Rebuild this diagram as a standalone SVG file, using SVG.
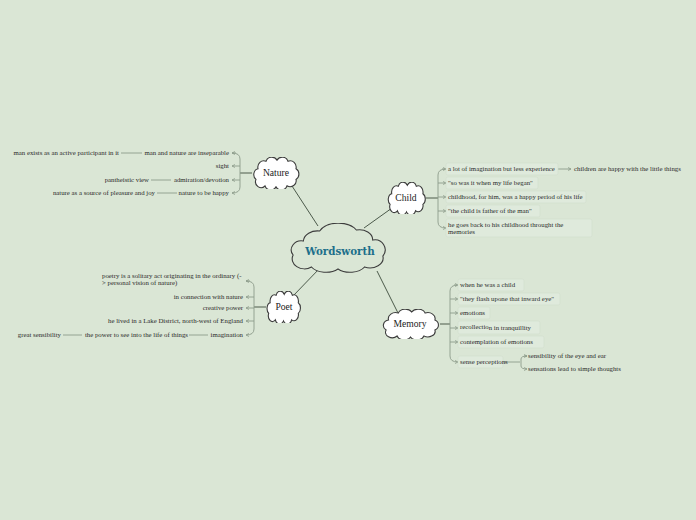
<svg xmlns="http://www.w3.org/2000/svg" width="696" height="520" viewBox="0 0 696 520">
<style>
.t{font-family:"Liberation Serif","DejaVu Serif",serif;font-size:6.8px;fill:#2a2a2a}
.e{text-anchor:end}
.lbl{font-family:"Liberation Serif","DejaVu Serif",serif;font-size:9.6px;fill:#222;text-anchor:middle}
.main{font-family:"DejaVu Serif","Liberation Serif",serif;font-weight:bold;font-size:10.3px;fill:#1d6f8a;text-anchor:middle}
.br{fill:none;stroke:#8d9c8b;stroke-width:0.9}
.ln{fill:none;stroke:#8d9c8b;stroke-width:0.9}
.c{fill:none;stroke:#4c5a4b;stroke-width:1}
.box{fill:#dfeadc;stroke:#d2dfcf;stroke-width:0.6}
.cl{stroke:#3c3c3c;stroke-width:1.1;vector-effect:non-scaling-stroke}
</style>
<defs>
<marker id="ar" markerWidth="5" markerHeight="5" refX="4" refY="2.5" orient="auto" markerUnits="userSpaceOnUse">
<path d="M1,1 L4,2.5 L1,4" fill="none" stroke="#8d9c8b" stroke-width="0.8"/>
</marker>
<symbol id="cloud" viewBox="0 0 100 60" preserveAspectRatio="none">
<path class="cl" d="M14,22 A12,12 0 0 1 30,8 A12,11 0 0 1 52,6 A12,11 0 0 1 74,8 A12,12 0 0 1 90,22 A10,11 0 0 1 90,42 A12,11 0 0 1 72,54 A12,11 0 0 1 50,56 A12,11 0 0 1 28,54 A11,11 0 0 1 10,42 A10,11 0 0 1 14,22 Z"/>
</symbol>
<symbol id="bigcloud" viewBox="0 0 100 50" preserveAspectRatio="none">
<path class="cl" d="M16,18 A14,11 0 0 1 32,8 A20,13 0 0 1 68,7 A13,10 0 0 1 84,17 A10,10 0 0 1 94,33 A13,10 0 0 1 76,44 A16,10 0 0 1 50,46 A16,10 0 0 1 24,44 A12,10 0 0 1 6,32 A10,9 0 0 1 16,18 Z"/>
</symbol>
</defs>
<rect width="696" height="520" fill="#dae6d5"/>

<g id="connectors">
<path class="c" d="M318,226 L292,186"/>
<path class="c" d="M364,228 L392,208"/>
<path class="c" d="M320,268 L293,296"/>
<path class="c" d="M377,271 L398,313"/>
<!-- Nature bracket -->
<path class="c" d="M252,173 L240,173"/>
<path class="br" d="M232,153 Q240,153 240,159 L240,187 Q240,193 232,193" marker-end="url(#ar)"/>
<path class="br" d="M236,153 L232,153" marker-end="url(#ar)"/>
<path class="br" d="M240,166 L232,166" marker-end="url(#ar)"/>
<path class="br" d="M240,180 L232,180" marker-end="url(#ar)"/>
<path class="ln" d="M142,153 L121,153"/>
<path class="ln" d="M171,180 L151,180"/>
<path class="ln" d="M177,193 L157,193"/>
<!-- Poet bracket -->
<path class="c" d="M266,307 L254,307"/>
<path class="br" d="M246,281 Q254,281 254,287 L254,329 Q254,335 246,335" marker-end="url(#ar)"/>
<path class="br" d="M250,281 L246,281" marker-end="url(#ar)"/>
<path class="br" d="M254,297 L246,297" marker-end="url(#ar)"/>
<path class="br" d="M254,308 L246,308" marker-end="url(#ar)"/>
<path class="br" d="M254,321 L246,321" marker-end="url(#ar)"/>
<path class="ln" d="M208,335 L189,335"/>
<path class="ln" d="M82,335 L63,335"/>
<!-- Child bracket -->
<path class="c" d="M426,198 L438,198"/>
<path class="br" d="M446,169 Q438,169 438,175 L438,222 Q438,228 446,228" marker-end="url(#ar)"/>
<path class="br" d="M442,169 L446,169" marker-end="url(#ar)"/>
<path class="br" d="M438,183 L446,183" marker-end="url(#ar)"/>
<path class="br" d="M438,197 L446,197" marker-end="url(#ar)"/>
<path class="br" d="M438,211 L446,211" marker-end="url(#ar)"/>
<path class="ln" d="M558,169 L571,169" marker-end="url(#ar)"/>
<!-- Memory bracket -->
<path class="c" d="M440,324 L450,324"/>
<path class="br" d="M458,285 Q450,285 450,291 L450,356 Q450,362 458,362" marker-end="url(#ar)"/>
<path class="br" d="M454,285 L458,285" marker-end="url(#ar)"/>
<path class="br" d="M450,299 L458,299" marker-end="url(#ar)"/>
<path class="br" d="M450,313 L458,313" marker-end="url(#ar)"/>
<path class="br" d="M450,328 L458,328" marker-end="url(#ar)"/>
<path class="br" d="M450,342 L458,342" marker-end="url(#ar)"/>
<path class="ln" d="M503,362 L520,362"/>
<path class="br" d="M527,356 Q521,356 521,359 L521,366 Q521,369 527,369" marker-end="url(#ar)"/>
<path class="br" d="M524,356 L527,356" marker-end="url(#ar)"/>
</g>

<g id="wordsworth">
<use href="#bigcloud" x="287" y="223" width="102" height="50" fill="#dae6d5"/>
<text class="main" x="340" y="255">Wordsworth</text>
</g>

<g id="nature">
<use href="#cloud" x="251" y="157" width="50" height="32" fill="#ffffff"/>
<text class="lbl" x="276" y="176">Nature</text>
</g>
<g id="nature-items">
<text class="t e" x="229" y="155">man and nature are inseparable</text>
<text class="t e" x="119" y="155">man exists as an active participant in it</text>
<text class="t e" x="229" y="168">sight</text>
<text class="t e" x="229" y="182">admiration/devotion</text>
<text class="t e" x="149" y="182">pantheistic view</text>
<text class="t e" x="229" y="195">nature to be happy</text>
<text class="t e" x="155" y="195">nature as a source of pleasure and joy</text>
</g>

<g id="child">
<use href="#cloud" x="386" y="182" width="41" height="32" fill="#ffffff"/>
<text class="lbl" x="406" y="201">Child</text>
</g>
<g id="child-items">
<rect class="box" x="446" y="163" width="112" height="12" rx="2"/>
<rect class="box" x="446" y="177" width="92" height="12" rx="2"/>
<rect class="box" x="446" y="191" width="140" height="12" rx="2"/>
<rect class="box" x="446" y="205" width="94" height="12" rx="2"/>
<rect class="box" x="446" y="219" width="146" height="18" rx="2"/>
<text class="t" x="448" y="171">a lot of imagination but less experience</text>
<text class="t" x="574" y="171">children are happy with the little things</text>
<text class="t" x="448" y="185">"so was it when my life began"</text>
<text class="t" x="448" y="199">childhood, for him, was a happy period of his life</text>
<text class="t" x="448" y="213">"the child is father of the man"</text>
<text class="t" x="448" y="227">he goes back to his childhood throught the</text>
<text class="t" x="448" y="234">memories</text>
</g>

<g id="poet">
<use href="#cloud" x="265" y="291" width="37" height="32" fill="#ffffff"/>
<text class="lbl" x="284" y="310">Poet</text>
</g>
<g id="poet-items">
<text class="t" x="102" y="278">poetry is a solitary act originating in the ordinary (-</text>
<text class="t" x="102" y="284.5">&gt; personal vision of nature)</text>
<text class="t e" x="243" y="299">in connection with  nature</text>
<text class="t e" x="243" y="310">creative power</text>
<text class="t e" x="243" y="323">he lived in a Lake District, north-west of England</text>
<text class="t e" x="243" y="337">imagination</text>
<text class="t e" x="188" y="337">the power to see into the life of things</text>
<text class="t e" x="61" y="337">great sensibility</text>
</g>

<g id="memory">
<use href="#cloud" x="380" y="309" width="61" height="30" fill="#ffffff"/>
<text class="lbl" x="410" y="327">Memory</text>
</g>
<g id="memory-items">
<rect class="box" x="458" y="279" width="66" height="12" rx="2"/>
<rect class="box" x="458" y="293" width="102" height="12" rx="2"/>
<rect class="box" x="458" y="307" width="32" height="12" rx="2"/>
<rect class="box" x="458" y="321" width="82" height="13" rx="2"/>
<rect class="box" x="458" y="336" width="86" height="12" rx="2"/>
<rect class="box" x="458" y="356" width="45" height="12" rx="2"/>
<text class="t" x="460" y="287">when he was a child</text>
<text class="t" x="460" y="301">"they flash upone that inward eye"</text>
<text class="t" x="460" y="315">emotions</text>
<text class="t" x="460" y="329">recollectio<tspan dy="1.2">n in tranquillity</tspan></text>
<text class="t" x="460" y="344">contemplation of emotions</text>
<text class="t" x="460" y="364">sense perceptions</text>
<text class="t" x="528" y="358">sensibility of the eye and ear</text>
<text class="t" x="528" y="371">sensations lead to simple thoughts</text>
</g>
</svg>
